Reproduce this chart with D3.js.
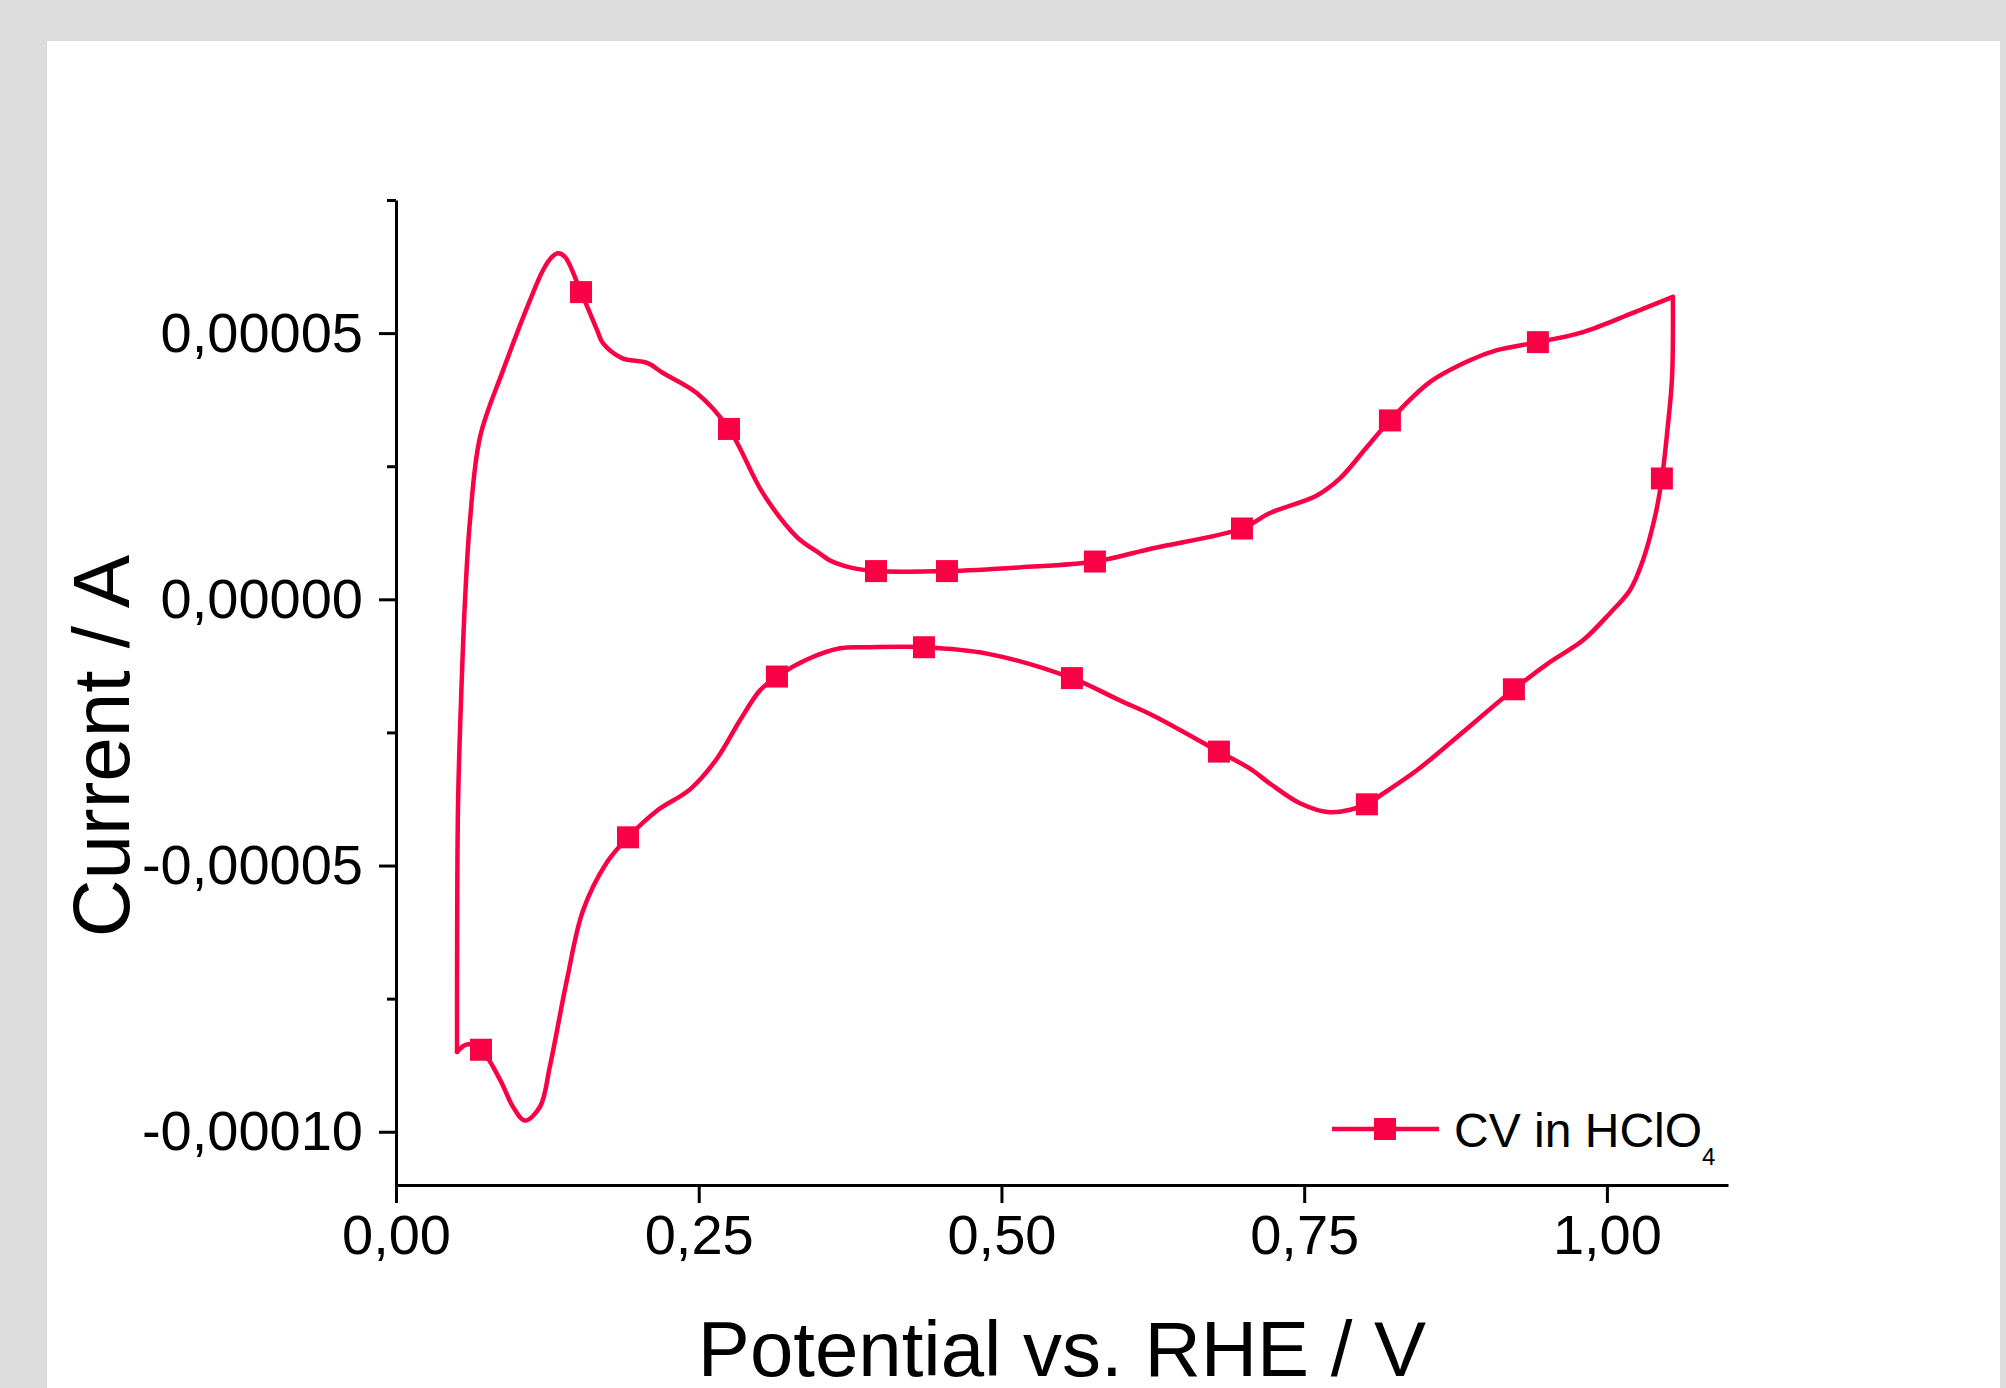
<!DOCTYPE html>
<html>
<head>
<meta charset="utf-8">
<title>CV in HClO4</title>
<script src="https://d3js.org/d3.v7.min.js"></script>
<style>
    html, body { margin: 0; padding: 0; background: #dcdcdc; }
    svg { display: block; }
</style>
</head>
<body>
<div id="chart"></div>
<script>
// Cyclic voltammogram
// potential in V vs. RHE, current in A (traced along the loop)
const cvPotential = [
    0.0504, 0.0512, 0.0537, 0.0570, 0.0611, 0.0694, 0.0884, 0.1107, 0.1214,
    0.1288, 0.1338, 0.1396, 0.1528, 0.1660, 0.1709, 0.1866, 0.2073, 0.2205, 0.2486,
    0.2750, 0.3031, 0.3311, 0.3501, 0.3584, 0.3749, 0.3964, 0.4550, 0.5153, 0.5772,
    0.6251, 0.6986, 0.7217, 0.7605, 0.7795, 0.8018, 0.8208, 0.8538, 0.8869, 0.9092,
    0.9430, 0.9802, 1.0215, 1.0545, 1.0538, 1.0502, 1.0454, 1.0396, 1.0297, 1.0190,
    1.0025, 0.9802, 0.9529, 0.9232, 0.8761, 0.8431, 0.8150, 0.8018, 0.7713, 0.7465,
    0.7217, 0.7052, 0.6796, 0.6251, 0.5979, 0.5582, 0.4880, 0.4360, 0.3914, 0.3666,
    0.3394, 0.3146, 0.3006, 0.2841, 0.2651, 0.2428, 0.2155, 0.1916, 0.1742, 0.1544,
    0.1412, 0.1272, 0.1189, 0.1065, 0.0966, 0.0859, 0.0702, 0.0586, 0.0504
];
const cvCurrent = [
    -8.50e-5, -3.91e-5, -1.90e-5, -0.02e-5, 1.48e-5, 3.05e-5, 4.30e-5, 5.62e-5, 6.18e-5,
    6.43e-5, 6.50e-5, 6.43e-5, 5.77e-5, 5.06e-5, 4.81e-5, 4.53e-5, 4.44e-5, 4.25e-5, 3.87e-5,
    3.20e-5, 1.99e-5, 1.17e-5, 0.86e-5, 0.73e-5, 0.60e-5, 0.53e-5, 0.53e-5, 0.60e-5, 0.71e-5,
    0.96e-5, 1.33e-5, 1.62e-5, 1.95e-5, 2.27e-5, 2.86e-5, 3.36e-5, 4.08e-5, 4.49e-5, 4.68e-5,
    4.83e-5, 5.02e-5, 5.38e-5, 5.68e-5, 4.17e-5, 3.23e-5, 2.27e-5, 1.54e-5, 0.73e-5, 0.17e-5,
    -0.26e-5, -0.77e-5, -1.18e-5, -1.69e-5, -2.59e-5, -3.21e-5, -3.65e-5, -3.85e-5, -4.00e-5, -3.83e-5,
    -3.46e-5, -3.18e-5, -2.86e-5, -2.18e-5, -1.90e-5, -1.48e-5, -1.02e-5, -0.90e-5, -0.90e-5, -0.92e-5,
    -1.13e-5, -1.45e-5, -1.71e-5, -2.27e-5, -2.99e-5, -3.57e-5, -3.97e-5, -4.47e-5, -4.94e-5, -5.85e-5,
    -7.14e-5, -8.76e-5, -9.53e-5, -9.79e-5, -9.53e-5, -9.02e-5, -8.46e-5, -8.36e-5, -8.50e-5
];
// index of the vertex potential (anodic turn), where the trace has a sharp corner
const turnIndex = 42;

// symbol positions along the curve
const markerPotential = [
    0.1528, 0.2750, 0.3964, 0.4550, 0.5772, 0.6986, 0.8208, 0.9430, 1.0454,
    0.9232, 0.8018, 0.6796, 0.5582, 0.4360, 0.3146, 0.1916, 0.0702
];
const markerCurrent = [
    5.77e-5, 3.20e-5, 0.53e-5, 0.53e-5, 0.71e-5, 1.33e-5, 3.36e-5, 4.83e-5, 2.27e-5,
    -1.69e-5, -3.85e-5, -2.86e-5, -1.48e-5, -0.90e-5, -1.45e-5, -4.47e-5, -8.46e-5
];

// axis ticks
const xTicks = [0, 0.25, 0.5, 0.75, 1.0];
const yTicks = [5e-5, 0, -5e-5, -10e-5];
const yMinorTicks = [7.5e-5, 2.5e-5, -2.5e-5, -7.5e-5];

const seriesName = 'CV in HClO';
const xTitle = 'Potential vs. RHE / V';
const yTitle = 'Current / A';

const width = 2006;
const height = 1388;
const red = '#fa0045';
const font = '"Liberation Sans", Arial, sans-serif';

const svg = d3.select('#chart').append('svg')
    .attr('width', width)
    .attr('height', height);

// grey frame and white panel
svg.append('rect')
    .attr('width', width).attr('height', height)
    .attr('fill', '#dcdcdc');
svg.append('rect')
    .attr('x', 47).attr('y', 41)
    .attr('width', 1953).attr('height', height - 41)
    .attr('fill', '#ffffff');

const x = d3.scaleLinear().domain([0, 1.1]).range([396, 1728]);
const y = d3.scaleLinear().domain([-11e-5, 7.5e-5]).range([1185, 200]);

const locale = d3.formatLocale({
    decimal: ',', thousands: '.', grouping: [3], currency: ['', ''], minus: '-'
});
const fmtX = locale.format('.2f');
const fmtY = locale.format('.5f');

// x axis
const xAxis = svg.append('g')
    .attr('transform', `translate(0,${y.range()[0]})`)
    .call(d3.axisBottom(x)
        .tickValues(xTicks)
        .tickFormat(fmtX)
        .tickSize(18)
        .tickSizeOuter(0)
        .tickPadding(11));

// y axis
const yAxis = svg.append('g')
    .attr('transform', `translate(${x.range()[0]},0)`)
    .call(d3.axisLeft(y)
        .tickValues(yTicks)
        .tickFormat(fmtY)
        .tickSize(17)
        .tickSizeOuter(0)
        .tickPadding(16));

svg.append('g')
    .attr('transform', `translate(${x.range()[0]},0)`)
    .call(d3.axisLeft(y)
        .tickValues(yMinorTicks)
        .tickFormat('')
        .tickSize(9)
        .tickSizeOuter(0))
    .call(g => g.select('.domain').remove());

[xAxis, yAxis].forEach(g => {
    g.select('.domain').attr('stroke', '#000').attr('stroke-width', 3);
    g.selectAll('text')
        .attr('fill', '#000')
        .style('font-family', font)
        .style('font-size', '56px');
});
svg.selectAll('.tick line').attr('stroke', '#000').attr('stroke-width', 3);

// axis titles
svg.append('text')
    .attr('x', (x.range()[0] + x.range()[1]) / 2)
    .attr('y', 1376)
    .attr('text-anchor', 'middle')
    .style('font-family', font)
    .style('font-size', '78px')
    .text(xTitle);

svg.append('text')
    .attr('transform', 'translate(129,746) rotate(-90)')
    .attr('text-anchor', 'middle')
    .style('font-family', font)
    .style('font-size', '80px')
    .text(yTitle);

// the loop, drawn as two smooth sweeps meeting at the vertex potential
const points = cvPotential.map((v, i) => [v, cvCurrent[i]]);
const line = d3.line()
    .x(d => x(d[0]))
    .y(d => y(d[1]))
    .curve(d3.curveCatmullRom.alpha(0.5));

const sweeps = [points.slice(0, turnIndex + 1), points.slice(turnIndex)];
svg.append('g')
    .selectAll('path')
    .data(sweeps)
    .join('path')
    .attr('d', line)
    .attr('fill', 'none')
    .attr('stroke', red)
    .attr('stroke-width', 4.5)
    .attr('stroke-linejoin', 'round')
    .attr('stroke-linecap', 'round');

const markerSize = 22;
svg.append('g')
    .selectAll('rect')
    .data(markerPotential.map((v, i) => [v, markerCurrent[i]]))
    .join('rect')
    .attr('x', d => x(d[0]) - markerSize / 2)
    .attr('y', d => y(d[1]) - markerSize / 2)
    .attr('width', markerSize)
    .attr('height', markerSize)
    .attr('fill', red);

// legend
const legend = svg.append('g').attr('transform', 'translate(1332,1129)');
legend.append('line')
    .attr('x1', 0).attr('x2', 107)
    .attr('stroke', red)
    .attr('stroke-width', 4.5);
legend.append('rect')
    .attr('x', 53 - markerSize / 2).attr('y', -markerSize / 2)
    .attr('width', markerSize).attr('height', markerSize)
    .attr('fill', red);
const legendText = legend.append('text')
    .attr('x', 122)
    .attr('y', 18)
    .style('font-family', font)
    .style('font-size', '48px')
    .text(seriesName);
legendText.append('tspan')
    .attr('dy', 18)
    .style('font-size', '24px')
    .text('4');
</script>
</body>
</html>
